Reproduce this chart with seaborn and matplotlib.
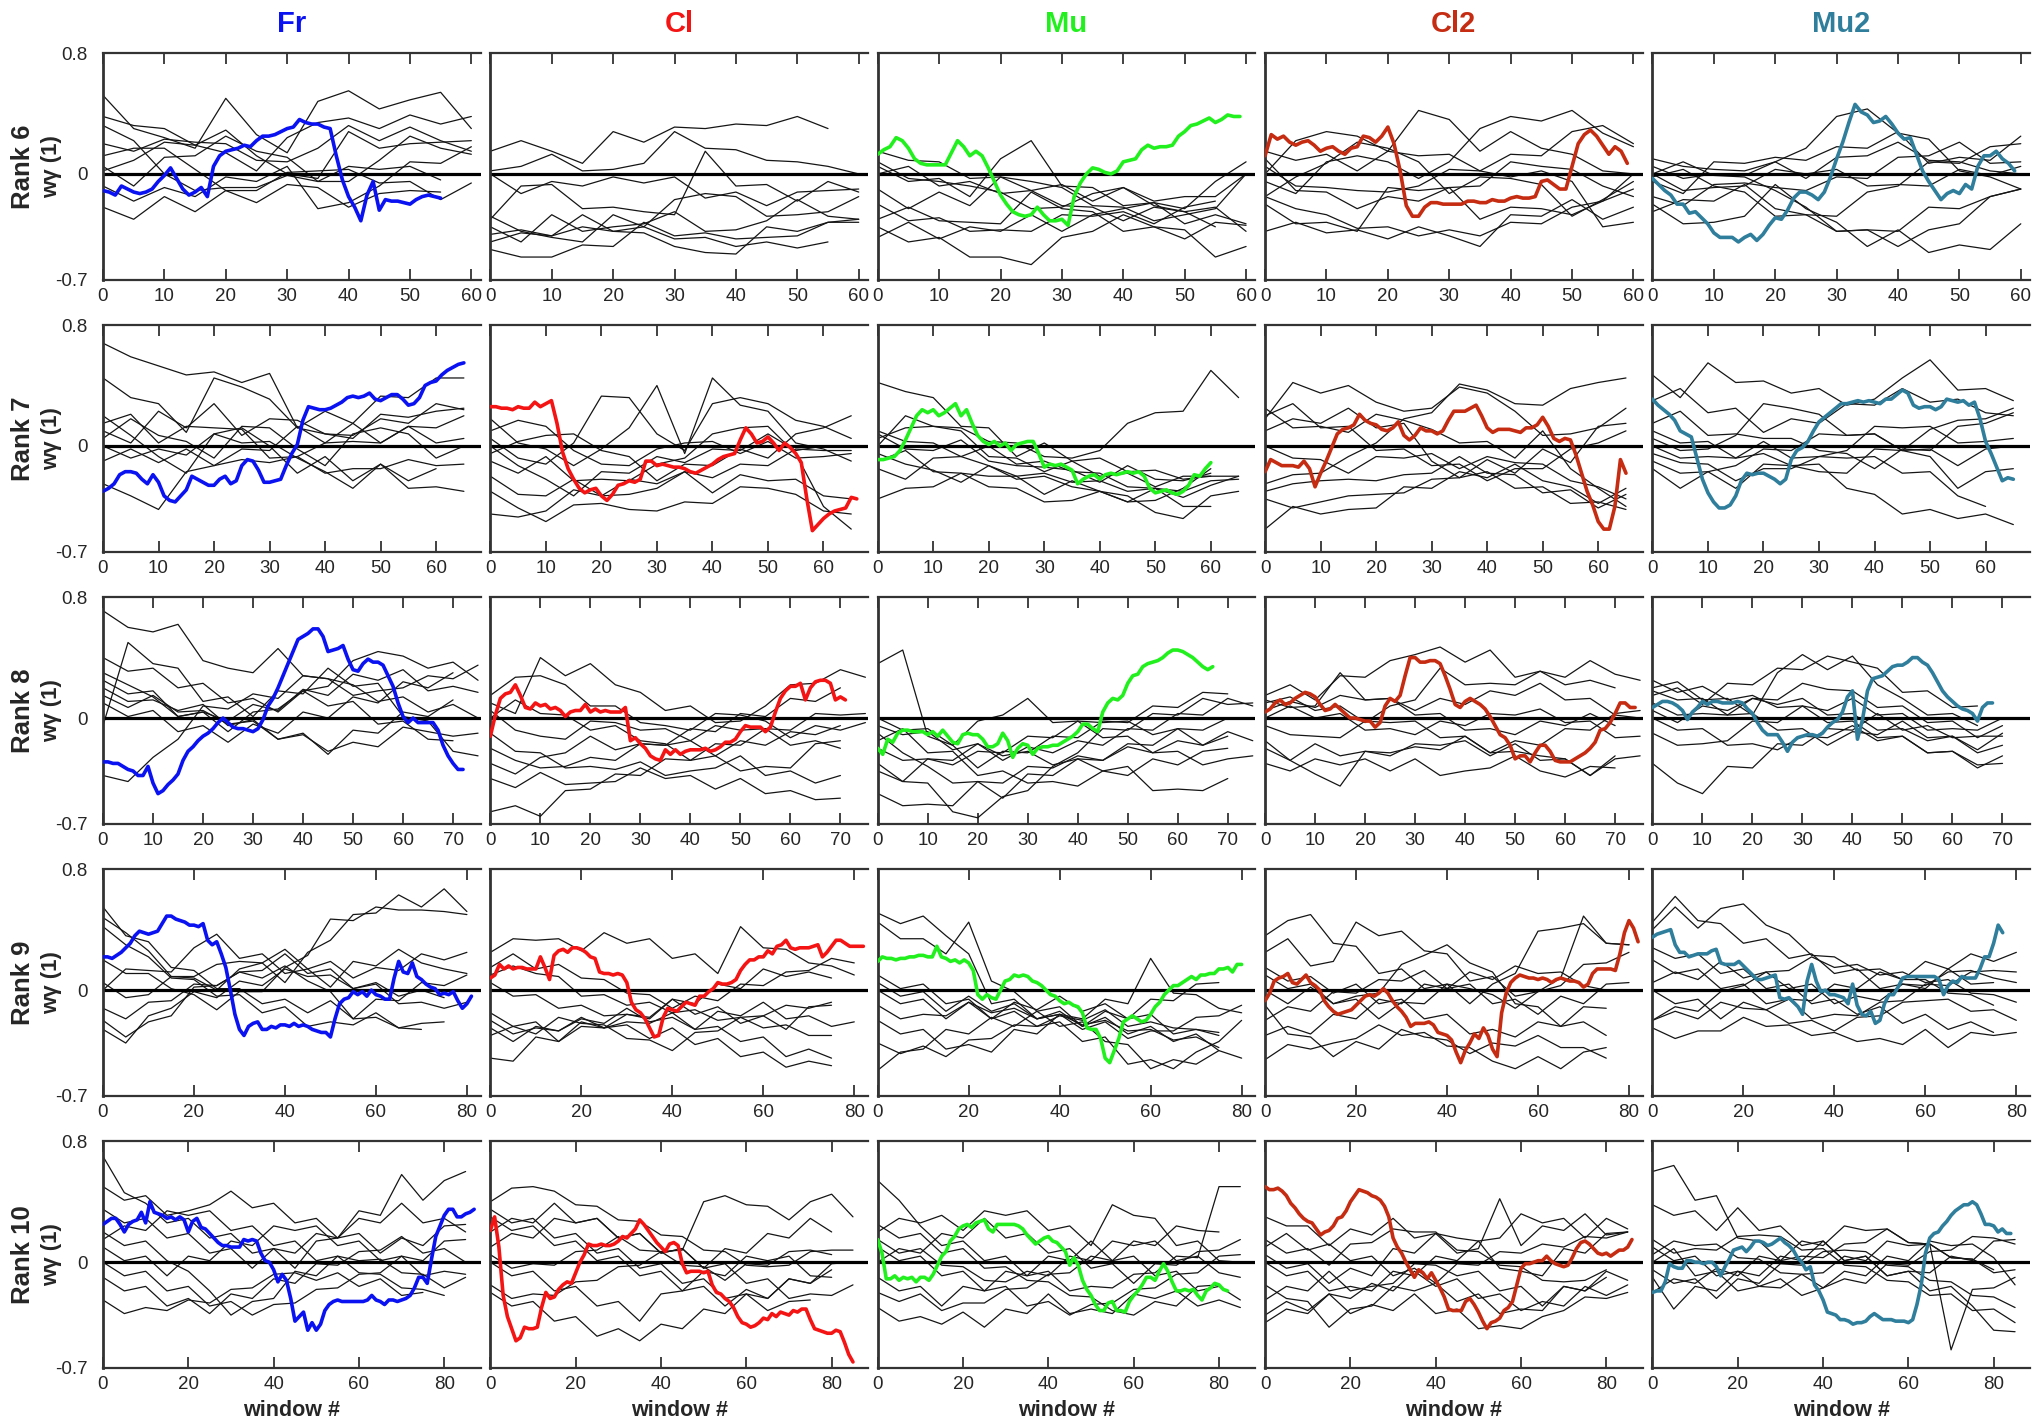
import numpy as np
import pandas as pd
import matplotlib
matplotlib.use("Agg")
import matplotlib.pyplot as plt
import seaborn as sns

sns.set_theme(style="white")
plt.rcParams["font.family"] = ["Liberation Sans", "DejaVu Sans"]

CONDITIONS = ["Fr", "Cl", "Mu", "Cl2", "Mu2"]
COND_COLORS = ["#0b12f2", "#f41414", "#22f01e", "#c52c12", "#2f7e9c"]
RANKS = [6, 7, 8, 9, 10]
X_MAX = [61.5, 68, 75.5, 83, 88.5]
X_TICK_STEP = [10, 10, 10, 20, 20]
Y_TICKS = [-0.7, 0, 0.8]
Y_TICK_LABELS = ["-0.7", "0", "0.8"]
BG_STEP = 5  # background runs are sampled every 5 windows

# All w-gamma(1) values are stored in hundredths.
# *_MAIN: highlighted run, one value per window; *_BG: other runs, every BG_STEP windows.

# ---------------- Rank 6 ----------------
R6_FR_MAIN = [-11,-12,-14,-8,-10,-12,-13,-12,-10,-5,-1,4,-3,-10,-14,-12,-9,-15,5,12,15,16,17,19,18,22,25,25,26,28,30,31,36,34,33,33,31,30,12,-4,-15,-22,-31,-14,-5,-24,-17,-18,-18,-19,-20,-17,-15,-14,-15,-16]
R6_FR_BG = [
    [52,30,24,17,50,26,14,48,55,43,49,54,30],
    [38,32,30,19,14,2,24,34,37,30,39,33,38],
    [20,15,23,21,20,9,8,17,32,22,31,22,15],
    [5,-8,11,12,25,15,11,-5,-5,9,25,17,13],
    [-22,-30,-15,-25,-11,-11,1,2,3,-6,-5,-17,-6],
    [2,9,21,19,29,12,0,-3,28,17,20,21,22],
    [32,22,0,-11,-9,-9,-1,-5,5,3,5,-4],
    [12,17,17,3,-11,-19,-7,-9,-22,-13,-11,-12],
    [-8,-18,-9,-15,-2,-5,5,-23,-19,-8,8,7,18],
]
R6_CL_MAIN = None
R6_CL_BG = [
    [15,22,15,7,28,21,31,30,33,32,38,30],
    [2,5,13,2,3,7,28,17,16,9,8,5,0],
    [-30,-8,-7,-23,-22,-25,-27,15,-8,-7,-18,-5,-12],
    [-35,-45,-27,-38,-35,-33,-25,-38,-37,-31,-17,-28,-30],
    [-50,-55,-55,-47,-48,-32,-41,-39,-43,-42,-41,-32,-32],
    [-40,-37,-41,-35,-38,-39,-48,-52,-53,-35,-38,-32,-30],
    [-45,-39,-41,-27,-38,-35,-43,-42,-48,-45,-49,-45],
    [0,-13,-5,-8,-2,-6,-2,-16,-12,-21,-12,-11,-10],
    [-28,-38,-42,-45,-27,-35,-17,-13,-15,-28,-27,-25,-15],
]
R6_MU_MAIN = [13,16,18,24,22,17,10,7,6,6,6,6,14,22,18,12,15,12,4,-5,-14,-20,-25,-27,-28,-27,-22,-27,-31,-31,-30,-34,-15,-6,0,4,3,1,0,2,8,9,10,16,19,17,18,18,19,25,28,32,33,35,37,34,36,39,38,38]
R6_MU_BG = [
    [5,-5,-3,-15,10,22,-8,-9,-21,-19,-23,-5,8],
    [-10,-23,-12,-21,-2,-5,-9,-21,-22,-31,-27,-23,0],
    [-35,-45,-42,-55,-55,-60,-42,-38,-27,-35,-37,-55,-48],
    [-30,-22,-31,-32,-33,-12,-23,-25,-38,-35,-43,-32,-34],
    [0,5,-8,-5,-13,-11,-21,-22,-31,-22,-25,-22,-38],
    [-42,-32,-43,-35,-38,-27,-38,-27,-23,-19,-33,-27,-33],
    [15,9,8,-3,-2,-11,-7,-18,-9,-21,-25,-35],
    [-20,-31,-29,-38,-37,-38,-27,-28,-25,-33,-22,-18],
    [8,-3,-5,-8,-12,-23,-22,-13,-9,-18,-15,-15,0],
]
R6_CL2_MAIN = [12,26,23,25,21,19,21,22,19,15,17,18,15,13,17,18,25,24,21,25,31,20,2,-21,-28,-28,-22,-19,-19,-20,-20,-20,-20,-18,-18,-19,-19,-17,-18,-18,-16,-15,-16,-16,-15,-5,-4,-7,-10,-10,5,20,26,29,25,19,13,18,15,7]
R6_CL2_BG = [
    [-38,-32,-39,-37,-43,-35,-41,-48,-27,-28,-17,-30,-22],
    [-15,-23,-27,-36,-35,-41,-37,-41,-32,-33,-22,-18,-10],
    [0,22,28,25,15,42,36,15,28,17,13,2,0],
    [-5,-13,8,12,8,-3,8,30,38,35,42,27,18],
    [-20,-33,-32,-38,-9,-11,-9,-8,8,5,3,-8,-15],
    [5,-8,-9,-11,-12,-8,3,2,13,12,28,32,20],
    [-15,-2,7,21,17,8,-13,-2,-3,-7,-28,-17,-5],
    [10,-11,-12,-23,-15,-18,-9,-30,-22,-23,-27,-18,0],
    [15,9,13,2,15,12,13,2,-2,2,-5,-35,-32],
]
R6_MU2_MAIN = [-3,-7,-11,-14,-20,-20,-26,-25,-29,-33,-39,-42,-42,-42,-45,-42,-40,-44,-40,-34,-29,-30,-24,-16,-12,-12,-14,-17,-12,-2,10,21,34,46,41,39,34,35,38,33,27,23,24,13,2,-5,-11,-17,-13,-11,-13,-7,-10,5,12,12,15,10,7,2]
R6_MU2_BG = [
    [10,5,3,2,8,17,38,43,27,23,2,-2,-10],
    [-20,-33,-32,-28,-7,-23,-32,-48,-37,-52,-47,-50,-33],
    [0,8,-1,-2,-11,-22,-38,-37,-38,-22,-23,-15,-10],
    [-5,-13,8,7,11,9,18,17,28,7,11,9,25],
    [-2,3,-8,-12,-28,-27,-28,-12,-8,8,7,18,20],
    [5,-3,0,-1,8,-3,11,12,21,9,8,2,0],
    [-25,-17,-18,-7,-23,-27,-38,-37,-48,-37,-33,-15,-10],
    [0,-11,-9,-8,3,0,3,-8,-7,-8,3,-1,5],
    [-15,-21,-7,-6,-9,-11,-2,-3,11,12,21,7,8],
]

# ---------------- Rank 7 ----------------
R7_FR_MAIN = [-30,-28,-25,-19,-17,-17,-18,-22,-25,-19,-24,-33,-36,-37,-33,-29,-20,-22,-24,-26,-26,-22,-20,-25,-23,-13,-9,-10,-16,-24,-24,-23,-22,-13,-5,1,17,26,25,24,24,25,27,29,32,33,32,33,35,31,30,32,34,34,31,27,28,32,40,42,43,47,50,52,54,55]
R7_FR_BG = [
    [68,59,53,47,49,42,48,12,8,7,18,15,28,24],
    [45,32,28,9,45,39,31,12,23,15,33,32,45,45],
    [10,2,23,12,28,7,18,17,8,5,21,19,23,25],
    [5,18,7,3,-8,13,12,-2,-13,8,12,8,-8,0],
    [0,-8,-2,-6,8,12,0,-18,-7,-23,-12,-28,-27,-30],
    [-25,-33,-42,-17,-13,-2,-3,13,2,3,2,13,12,20],
    [15,21,2,13,12,11,-8,-7,-18,-15,-15,-9,-13,-12],
    [-10,-2,-11,-2,-13,-9,-11,-7,2,15,2,13,2,5],
    [20,7,-7,-18,8,2,3,-8,-17,-28,-12,-23,-15],
]
R7_CL_MAIN = [26,26,25,25,24,26,25,25,29,26,28,30,15,-4,-15,-22,-28,-31,-29,-28,-33,-36,-32,-26,-25,-23,-24,-22,-10,-10,-13,-12,-13,-14,-14,-15,-17,-18,-16,-14,-12,-9,-7,-6,-5,4,12,8,2,3,6,2,-3,2,-1,-5,-11,-35,-56,-52,-48,-45,-43,-42,-41,-34,-35]
R7_CL_BG = [
    [18,2,-2,-13,-2,12,40,-5,45,27,23,2,-2,-10],
    [5,-8,-12,2,33,32,8,-3,28,32,28,17,13,5],
    [-10,-18,-7,-23,-22,-23,-12,-8,8,12,13,-5,-40,-55],
    [-30,-41,-50,-39,-38,-42,-43,-37,-38,-27,-28,-32,-43,-45],
    [-45,-47,-43,-29,-33,-22,-25,-17,-21,-12,-13,-2,-3,-3],
    [0,-13,-22,-33,-17,-18,-7,-11,-2,-3,8,-3,0,0],
    [-20,-32,-33,-22,-33,-32,-28,-17,-31,-19,-23,-22,-33,-35],
    [-5,3,7,8,-3,-7,-23,-12,-13,-2,-8,8,12,20],
    [10,17,13,-3,-12,-13,-2,2,3,-5,3,-8,-7,-5],
]
R7_MU_MAIN = [-9,-9,-8,-7,-3,4,12,20,24,22,24,20,22,25,28,20,24,15,7,3,1,3,0,2,-3,1,2,3,3,-5,-14,-12,-13,-12,-14,-16,-25,-22,-20,-19,-22,-19,-18,-19,-18,-17,-18,-17,-20,-28,-31,-30,-29,-31,-32,-30,-26,-19,-20,-15,-11]
R7_MU_BG = [
    [42,36,32,13,12,-7,2,-10,-8,-17,-16,-22,-20,-20],
    [5,12,13,12,3,2,-7,-8,-3,15,22,23,50,32],
    [-10,-3,-17,-18,-20,-20,-32,-23,-30,-33,-44,-48,-33,-30],
    [10,3,2,-7,0,-12,-10,-17,-18,-27,-28,-30,-23,-22],
    [-15,-22,-8,-7,-13,-20,-18,-24,-23,-30,-28,-34,-26,-20],
    [0,20,13,10,-7,-8,-17,-10,-20,-18,-27,-20,-20],
    [-35,-28,-27,-18,-27,-28,-37,-36,-30,-37,-28,-40,-40],
    [8,-2,-3,4,-10,-13,-14,-16,-24,-13,-22,-23,-18],
    [-5,-12,-16,-24,-13,-22,-20,-27,-30,-37,-36,-28,-15],
]
R7_CL2_MAIN = [-17,-9,-11,-13,-13,-13,-14,-10,-15,-27,-18,-10,-1,8,11,12,14,21,17,15,14,11,10,12,16,7,4,7,12,10,10,8,10,17,23,23,23,25,27,20,12,9,11,11,11,10,9,12,12,14,19,13,5,3,5,4,-6,-18,-30,-39,-50,-55,-55,-40,-9,-18]
R7_CL2_BG = [
    [18,42,35,40,29,23,25,39,35,23,7,8,12,25],
    [-25,-19,-18,-7,2,18,22,41,37,28,27,38,42,45],
    [-55,-40,-45,-42,-41,-27,-28,-17,-21,-12,-23,-27,-38,-28],
    [-35,-41,-37,-33,-32,-31,-22,-21,-17,-28,-27,-38,-37,-42],
    [-30,-25,-23,-22,-23,-19,-18,-7,-18,-19,-31,-29,-41,-32],
    [20,28,12,13,-3,-2,-13,-12,-23,-15,-15,-2,2,10],
    [10,18,15,25,12,15,-10,-21,-9,-18,-2,-11,13,15],
    [25,12,13,9,21,17,11,2,3,-8,10,-15,-28,-40],
    [0,-8,-9,-18,-7,-8,-5,-15,-7,-11,-12,-23,-27,-35],
]
R7_MU2_MAIN = [31,27,24,21,17,10,8,6,-8,-22,-31,-37,-41,-41,-39,-33,-23,-18,-19,-18,-18,-20,-22,-25,-22,-9,-3,-1,3,10,16,19,22,25,28,28,29,30,29,30,29,28,31,31,34,37,35,27,25,26,26,24,26,31,30,29,30,27,29,18,3,-5,-14,-23,-21,-22]
R7_MU2_BG = [
    [47,32,55,42,43,35,38,27,31,45,57,37,38,30],
    [30,38,22,25,9,18,15,28,27,38,29,31,22,20],
    [5,-3,-2,7,28,25,21,7,8,-3,11,17,18,25],
    [0,-8,-7,-8,-5,-13,-12,-28,-32,-45,-42,-48,-45,-52],
    [-5,-11,-12,-23,-15,-15,-7,-8,-7,-18,-17,-33,-40],
    [-10,-18,-17,-13,-2,-3,8,7,8,-3,-2,-13,-2,0],
    [10,2,3,-8,3,-8,-7,-3,13,12,13,2,3,5],
    [15,23,7,8,5,5,-3,-5,-15,-2,-3,13,15,22],
    [-15,-28,-17,-28,-12,-13,-17,-18,-2,-3,-7,-28,-17,-15],
]

# ---------------- Rank 8 ----------------
R8_FR_MAIN = [-29,-29,-30,-30,-32,-34,-35,-38,-38,-32,-43,-50,-48,-44,-41,-37,-28,-22,-19,-15,-12,-10,-7,-3,0,-3,-6,-7,-7,-8,-9,-7,-1,8,13,20,28,36,44,52,54,56,59,59,54,44,45,46,48,39,32,31,36,39,37,37,35,28,21,10,1,-3,0,-3,-3,-3,-3,-8,-18,-25,-30,-34,-34]
R8_FR_BG = [
    [71,60,57,62,38,33,30,46,28,26,15,18,20,28,26,35],
    [40,31,33,20,23,10,13,4,18,21,38,44,41,33,37,25],
    [-38,-42,-26,-14,8,6,16,13,28,26,22,11,14,4,9,0],
    [30,22,14,1,4,-2,9,5,19,15,29,25,32,18,21,17],
    [20,11,12,5,9,-5,-1,-14,-10,-24,-8,-10,4,1,12],
    [10,1,5,-9,-5,-16,-4,-10,4,0,14,10,24,20,30],
    [15,7,15,4,5,-4,-2,-14,-11,-22,-16,-19,-6,-9,-12,-10],
    [-5,50,36,33,11,14,1,18,16,33,21,23,1,-2,-22,-25],
    [25,16,18,1,4,-9,4,6,18,8,11,-4,-2,-14,-15],
]
R8_CL_MAIN = [-12,2,13,16,17,22,15,7,6,10,8,9,6,7,5,1,4,5,5,9,4,6,4,5,4,4,4,7,-15,-13,-17,-20,-25,-27,-28,-21,-24,-21,-24,-22,-21,-21,-21,-20,-22,-21,-19,-16,-16,-14,-9,-5,-6,-6,-6,-9,-6,4,13,18,21,21,23,12,20,24,25,25,23,12,14,12]
R8_CL_BG = [
    [10,3,40,28,36,22,17,5,8,-3,-2,8,22,23,32,27],
    [-62,-58,-65,-48,-47,-37,-38,-27,-28,-17,-18,-7,-8,3,2,3],
    [-40,-46,-36,-44,-43,-42,-33,-40,-38,-47,-40,-50,-48,-54,-53],
    [-20,-28,-33,-32,-26,-28,-17,-18,-7,-9,3,1,13,11,20],
    [5,-8,-12,-14,-2,-3,-8,-7,-15,-5,-8,-7,-18,-15,-20],
    [-10,-22,-23,-33,-32,-34,-29,-38,-35,-33,-25,-38,-35,-43,-38],
    [15,27,28,22,8,8,-3,-5,-8,3,2,-2,-13,-5,-8,-3],
    [-30,-37,-26,-23,-12,-21,-17,-18,-15,-25,-15,-18,-9,-11,-5],
    [0,12,3,2,-8,-5,-15,-17,-28,-25,-35,-32,-33,-17,-15],
]
R8_MU_MAIN = [-20,-24,-14,-16,-10,-8,-8,-9,-9,-9,-11,-9,-12,-8,-12,-16,-17,-11,-10,-11,-11,-14,-19,-19,-17,-10,-15,-26,-20,-17,-18,-24,-20,-19,-19,-18,-18,-16,-14,-12,-9,-4,-4,-7,-9,4,10,13,12,15,23,28,29,34,36,37,38,40,43,45,45,44,42,40,37,34,32,34]
R8_MU_BG = [
    [36,45,-12,-18,-33,-22,-23,-12,-13,-2,-3,8,7,17,16],
    [-30,-42,-43,-62,-66,-52,-48,-32,-23,-7,-8,3,2,13,9,10],
    [-10,-23,-32,-43,-42,-53,-37,-38,-27,-28,-17,-18,-7,-8,0],
    [-35,-42,-27,-28,-17,-25,-22,-31,-27,-35,-32,-48,-47,-48,-40],
    [0,-8,-7,-18,-2,2,13,-3,-2,-13,-12,-23,-22,-31,-27,-25],
    [-20,-28,-27,-31,-22,-23,-12,-13,-2,-3,-2,-11,-7,-18,-9,-15],
    [-50,-58,-57,-58,-42,-43,-32,-33,-25,-28,-19,-23,-15,-18,-12],
    [-5,-11,-9,-21,-17,-28,-19,-23,-15,-18,-7,-8,3,2,13,8],
    [-15,-7,-23,-22,-38,-35,-43,-42,-45,-35,-38,-27,-31,-22,-20],
]
R8_CL2_MAIN = [4,6,10,12,9,10,13,15,17,16,14,9,5,6,9,6,3,0,0,-1,-2,-2,-6,-3,8,13,11,15,28,40,40,37,37,38,38,36,28,19,9,7,11,13,11,9,6,1,-5,-11,-13,-18,-27,-25,-25,-29,-23,-18,-18,-22,-28,-29,-29,-29,-27,-25,-23,-20,-16,-8,-7,-3,3,10,10,7,7]
R8_CL2_BG = [
    [15,22,12,28,27,38,42,47,37,45,27,31,22,25,20],
    [-15,-28,-37,-45,-22,-25,-17,-18,-15,-25,-17,-28,-27,-38,-27,-25],
    [10,14,5,8,-3,8,12,33,22,23,22,31,27,38,29,25],
    [-20,-28,-17,-25,-22,-23,-19,-21,-12,-23,-22,-25,-27,-38,-25],
    [-30,-35,-27,-31,-27,-35,-27,-38,-35,-33,-25,-35,-39,-32,-33],
    [0,8,0,3,-8,-7,-11,-2,-5,3,2,6,-3,-2,-13,-12],
    [5,11,7,15,12,13,5,13,9,18,15,23,12,13,2,0],
    [-5,-11,-12,-13,-2,-3,-2,-13,-12,-23,-15,-18,-7,-8,3,5],
    [12,7,8,30,12,13,2,3,-8,-7,-11,-2,-5,3,-5],
]
R8_MU2_MAIN = [7,9,11,11,10,8,5,-1,4,7,11,9,11,11,10,10,10,11,10,6,3,-3,-8,-11,-11,-11,-16,-22,-16,-13,-12,-11,-11,-12,-10,-6,-3,-1,4,14,18,-14,-1,18,26,27,28,31,34,35,35,37,40,40,37,35,30,24,18,14,11,8,6,5,3,-2,7,10,10]
R8_MU2_BG = [
    [-30,-43,-50,-32,-33,-17,-18,-7,-8,3,-8,-5,-13,-12,-12],
    [20,24,12,13,2,30,42,32,41,22,13,2,3,-5],
    [15,20,9,23,22,33,32,41,37,33,17,18,7,8],
    [10,2,3,2,13,12,23,19,18,7,8,-3,-2,-13,-5],
    [0,-8,-7,-18,-17,-21,-12,-13,-5,-15,-12,-23,-22,-31,-30],
    [18,12,13,2,3,-8,-7,-18,-9,-11,-2,-13,-12,-23,-18],
    [5,-3,8,5,13,9,13,2,3,-8,-7,-15,-12,-21,-10],
    [-10,-18,-17,-15,-2,-3,8,5,13,2,3,-8,-7,-8,0],
    [25,17,21,12,15,7,8,-3,-2,-13,-12,-23,-22,-33,-25],
]

# ---------------- Rank 9 ----------------
R9_FR_MAIN = [22,22,21,23,25,28,31,36,39,38,37,38,39,44,49,49,47,46,45,43,43,42,44,33,30,32,24,15,0,-16,-26,-30,-24,-22,-21,-26,-26,-24,-25,-23,-23,-24,-22,-24,-23,-24,-26,-27,-28,-28,-31,-19,-9,-6,-5,-1,-3,-1,-4,0,-3,-4,-6,-6,8,19,12,11,18,9,7,4,2,1,-3,-2,-3,-1,-7,-12,-9,-4]
R9_FR_BG = [
    [5,-5,-3,9,9,17,19,18,5,25,33,50,51,63,55,67,52],
    [20,11,11,1,-3,-13,-1,-1,15,23,47,46,55,53,53,52,50],
    [55,36,32,15,13,1,1,-9,-6,-15,-7,-19,-6,-7,5,3,10],
    [48,38,26,9,8,0,14,18,27,14,19,8,15,13,24,20,25],
    [42,30,22,8,7,-4,-3,-15,-11,-24,-21,-23,-15,-25,-22,-21],
    [-12,-19,-8,-7,4,3,12,13,24,11,14,1,4,-9,-8,-12,-8],
    [-26,-35,-17,-12,-1,-5,6,3,14,9,10,1,5,-4,0,-5],
    [0,14,13,12,28,37,21,24,11,14,2,19,16,27,18,14,11],
    [-20,-31,-21,-17,2,3,12,8,16,6,-1,-19,-18,-25,-26],
]
R9_CL_MAIN = [8,10,17,14,16,14,15,15,14,14,14,22,15,7,23,26,27,25,28,28,27,25,22,21,12,11,11,10,11,10,5,-8,-13,-15,-19,-25,-31,-30,-18,-12,-13,-14,-11,-8,-9,-10,-4,-4,-1,1,5,4,4,5,7,13,17,20,20,22,22,26,24,29,30,33,28,27,28,28,28,29,30,22,25,29,33,33,31,29,29,29,29]
R9_CL_BG = [
    [25,34,33,34,26,38,31,34,21,24,11,42,28,27,18,16,10],
    [-25,-34,-24,-27,-19,-22,-12,-21,-18,-26,-14,-17,-8,-19,-17,-24,-21],
    [-45,-47,-31,-34,-21,-25,-23,-32,-25,-36,-32,-44,-41,-51,-47,-50],
    [15,24,14,17,8,7,-2,-3,-12,-4,-7,4,3,12,13,21,18],
    [-20,-29,-25,-27,-18,-25,-21,-22,-15,-26,-24,-34,-31,-44,-39,-45],
    [5,-4,-3,-12,-10,-17,-16,-18,-6,-9,4,1,14,9,12,8],
    [-30,-24,-29,-18,-22,-23,-32,-33,-40,-28,-27,-18,-17,-10,-12,-8],
    [10,16,11,9,-4,-3,-10,-8,-15,-13,-20,-18,-25,-23,-30,-30],
    [-15,-24,-21,-34,-24,-25,-16,-19,-6,-16,-11,-22,-17,-26,-11,-10],
]
R9_MU_MAIN = [19,22,21,21,20,21,21,22,22,23,23,22,22,29,22,21,19,20,18,20,18,13,-3,-6,-3,-5,-6,0,6,7,10,9,10,9,6,5,3,0,-3,-4,-7,-9,-8,-10,-11,-15,-25,-26,-26,-32,-45,-48,-40,-32,-21,-19,-17,-19,-21,-20,-16,-11,-8,-3,0,3,3,5,7,9,7,10,10,11,11,14,14,15,12,17,17]
R9_MU_BG = [
    [51,44,49,36,24,-9,-6,-19,-14,-24,-18,-29,-24,-34,-29,-40,-45],
    [45,34,34,24,45,6,-1,-14,-11,-24,-14,-19,-16,-29,-26,-28],
    [-53,-41,-39,-26,-29,-18,-24,-14,-24,-21,-34,-36,-52,-46,-49,-40],
    [0,-9,-6,-19,-8,-19,-14,-24,-21,-34,-31,-49,-46,-52,-41,-34,-20],
    [-20,-29,-26,-39,-36,-41,-26,-29,-16,-19,-6,-9,21,-2,-3,-12,-15],
    [-10,-19,-16,-17,-8,-15,-12,-19,-16,-23,-20,-27,-26,-33,-31,-38],
    [10,1,4,-9,-6,-19,-8,-13,-4,-14,-9,-19,-6,-7,4,5],
    [-35,-42,-37,-44,-33,-32,-23,-24,-17,-20,-13,-24,-21,-25,-26,-30],
    [5,-4,-1,-14,-4,-14,-9,-19,-16,-26,-21,-32,-27,-27,-18,-17,-10],
]
R9_CL2_MAIN = [-7,-2,6,8,9,11,5,4,7,10,5,3,0,-7,-11,-14,-16,-15,-14,-13,-10,-7,-4,-3,-4,-2,1,-2,-7,-11,-14,-18,-24,-22,-22,-22,-21,-23,-28,-29,-30,-33,-41,-48,-40,-35,-29,-32,-25,-30,-39,-44,-15,-2,5,8,10,9,8,8,7,8,7,5,7,8,7,6,6,5,2,4,11,14,14,14,14,13,24,38,46,41,32]
R9_CL2_BG = [
    [36,46,50,31,29,11,14,1,4,-9,4,11,39,41,44,31,30],
    [25,34,16,19,45,36,39,26,24,6,9,-4,-1,8,49,31,30],
    [-46,-36,-39,-35,-32,-23,-30,-28,-37,-38,-47,-52,-44,-52,-41,-38],
    [-10,-29,-31,-44,-34,-39,-26,-31,-33,-42,-35,-37,-30,-38,-38,-45],
    [10,1,4,-9,-4,-2,17,23,30,18,12,-9,-11,-24,-21,-30],
    [-20,-11,-14,-1,-2,7,6,13,1,4,-9,-6,-16,-4,-9,4,5],
    [0,-9,2,-9,-6,-19,-8,-9,4,1,-3,-12,-1,3,17,18,25],
    [-30,-24,-29,-16,-19,-6,-9,4,1,12,7,16,11,12,3,0],
    [15,6,9,-2,4,-9,-6,-19,-16,-29,-26,-31,-21,-24,-11,-12],
]
R9_MU2_MAIN = [35,37,38,39,40,30,25,25,22,23,24,24,24,26,27,18,17,17,17,19,16,13,10,7,7,8,9,10,-5,-6,-5,-8,-11,-16,6,17,6,-1,0,-3,-3,-4,-5,-9,4,-10,-16,-17,-14,-22,-20,-9,-3,-3,2,8,9,9,9,9,9,9,9,7,-3,3,6,5,9,8,8,8,14,22,22,31,43,38]
R9_MU2_BG = [
    [45,62,46,44,31,34,21,24,11,14,1,4,3,12,13,8,5],
    [40,55,41,54,57,43,37,23,22,13,14,7,19,14,24,19,25],
    [-20,-11,-14,-1,3,12,13,22,15,17,10,12,5,7,-2,-3,-8],
    [-25,-32,-27,-27,-18,-24,-23,-30,-28,-34,-32,-36,-26,-38,-28,-30,-28],
    [0,-9,-6,-19,-8,-13,-6,-7,4,1,12,7,7,-2,-3,-10],
    [20,11,14,1,4,-9,-6,-19,-16,-17,-8,-7,4,3,12,13,12],
    [-20,-14,-19,-8,-12,-13,-22,-20,-27,-18,-17,-8,-7,-6,-14,-13,-20],
    [5,12,7,19,8,12,1,4,-9,-4,-7,4,1,14,4,5],
    [28,21,24,11,14,1,4,-9,-6,-16,-11,-22,-16,-26,-21,-28],
]

# ---------------- Rank 10 ----------------
R10_FR_MAIN = [25,27,29,29,25,20,25,27,28,33,26,40,33,32,31,29,30,28,30,28,20,27,29,23,22,19,16,13,11,11,10,10,10,15,14,15,14,6,1,0,-5,-13,-8,-12,-24,-39,-36,-33,-45,-40,-45,-41,-32,-28,-26,-25,-26,-26,-26,-26,-26,-26,-25,-22,-25,-26,-28,-25,-25,-26,-25,-24,-22,-17,-10,-10,-14,2,17,24,31,35,35,30,30,32,33,35]
R10_FR_BG = [
    [70,46,39,26,29,16,19,6,9,-4,14,16,34,31,58,41,54,60],
    [50,41,44,31,34,38,47,36,39,26,29,16,19,6,16,11,24,25],
    [-10,-19,-16,-29,-24,-34,-21,-24,-11,-14,-1,-2,7,8,17,6,9,0],
    [20,11,14,1,-6,-19,-35,-26,-24,-6,-9,4,1,2,-7,-8,-17,-10],
    [-25,-34,-30,-32,-25,-27,-18,-17,-8,-7,-12,-7,-16,-11,-22,-20],
    [35,26,29,16,19,6,9,-4,9,6,19,16,29,26,39,26,29,20],
    [10,1,4,-9,4,1,14,11,24,21,24,11,14,1,4,-9,-6,-8],
    [15,24,21,34,31,34,21,24,11,14,1,4,-7,-8,-17,-18,-22],
    [0,-9,-6,-19,-16,-29,-26,-35,-28,-27,-18,-17,-8,-7,4,1,14,15],
]
R10_CL_MAIN = [21,30,10,-22,-36,-44,-52,-50,-43,-44,-44,-43,-30,-20,-24,-23,-18,-15,-13,-14,-7,0,5,12,11,11,12,11,11,12,14,17,16,19,22,28,25,21,17,13,10,7,12,13,11,-1,-7,-6,-6,-6,-7,-6,-15,-20,-21,-24,-26,-30,-36,-40,-41,-43,-42,-40,-37,-38,-34,-36,-33,-34,-35,-32,-33,-31,-31,-38,-44,-45,-46,-47,-47,-45,-46,-53,-61,-66]
R10_CL_BG = [
    [40,49,50,47,38,37,28,27,18,17,8,7,-2,-3,-2,7,8,8],
    [30,21,24,11,14,1,4,-9,-6,-19,-16,-29,-18,-24,-11,-14,-1,0],
    [-20,-29,-26,-39,-36,-49,-44,-52,-41,-44,-31,-34,-21,-24,-11,-14,-5],
    [10,19,16,29,26,29,16,19,6,9,-4,-1,-14,-11,-24,-21,-22,-15],
    [35,26,29,16,19,6,9,-4,-1,-14,-11,-24,-21,-32,-26,-25],
    [0,-9,-6,-19,-16,-29,-26,-39,-21,-19,-6,-9,4,1,4,-9,-10],
    [20,29,26,39,26,29,16,19,6,9,-4,9,6,19,16,29,20],
    [-15,-24,-21,-22,-13,-12,-3,-2,7,8,40,44,38,37,28,40,45,30],
    [5,-4,-1,-2,7,8,17,8,7,-2,-3,-12,-1,-2,7,8,5],
]
R10_MU_MAIN = [15,6,-11,-11,-9,-12,-10,-11,-10,-13,-10,-10,-12,-8,-2,4,7,14,17,22,24,25,23,26,27,28,22,20,25,25,25,25,25,24,22,18,15,12,14,16,17,14,13,10,7,-2,3,-2,-12,-18,-22,-28,-32,-32,-27,-26,-32,-32,-33,-26,-22,-19,-15,-10,-10,-12,-6,-1,-6,-13,-19,-19,-18,-19,-18,-22,-25,-19,-17,-14,-15,-18,-19]
R10_MU_BG = [
    [54,41,24,11,14,1,4,-9,-6,-19,-16,-17,-8,-7,4,3,50,50],
    [-30,-39,-36,-41,-33,-43,-31,-34,-21,-34,-31,-34,-21,-24,-19,-29,-25,-30],
    [20,29,26,31,21,34,31,34,21,24,11,38,31,29,11,14,1,0],
    [10,1,4,-9,-6,-19,-16,-29,-26,-35,-28,-27,-18,-17,-8,-7,4,5],
    [-10,-19,-16,-29,-16,-19,-6,-9,4,1,14,1,4,-9,-6,-19,-16,-25],
    [25,16,19,6,9,-4,-3,-12,-13,-22,-23,-32,-35,-26,-29,-16,-15],
    [0,9,6,19,16,29,16,19,6,9,-4,-1,-14,-1,-2,7,8,15],
    [-20,-26,-21,-32,-27,-27,-18,-17,-8,-7,4,1,14,11,24,21,20],
    [15,6,9,-2,-3,-12,-13,-6,-9,4,1,14,11,14,1,4,-7,-10],
]
R10_CL2_MAIN = [50,48,48,49,47,44,39,36,32,29,27,26,22,18,20,21,24,29,30,34,40,44,48,47,46,44,43,41,37,30,16,10,6,0,-5,-10,-5,-7,-11,-7,-12,-17,-23,-31,-32,-32,-32,-26,-24,-28,-33,-39,-44,-40,-39,-37,-32,-30,-26,-15,-4,-1,-1,0,1,1,4,1,-1,-2,-3,-2,3,9,13,14,12,9,6,5,6,4,6,8,8,10,15]
R10_CL2_BG = [
    [30,24,24,11,22,18,29,16,19,6,9,42,11,24,21,32,18,20],
    [-15,-24,-26,-43,-31,-29,-16,-19,-14,-26,-21,-34,-31,-32,-16,-19,-6,-12],
    [5,-4,-1,-14,-4,-9,9,6,19,16,14,-4,-6,-9,9,6,19,20],
    [-35,-26,-32,-21,-34,-28,-32,-21,-34,-31,-44,-42,-44,-36,-32,-23,-24,-20],
    [15,6,9,-2,12,13,22,20,20,8,7,-2,-3,-12,-13,-12,-5],
    [-25,-16,-19,-6,-19,-16,-14,-1,-2,-9,-6,-19,-16,-29,-16,-19,-10],
    [0,-9,-6,-19,-16,-19,-6,-9,4,1,14,16,32,26,29,16,29,22],
    [-40,-31,-34,-21,-24,-14,-19,-6,-16,-11,-24,-21,-32,-26,-29,-16,-22,-15],
    [10,19,8,12,1,4,-9,-4,-14,-1,-2,7,6,12,10,17,16,20],
]
R10_MU2_MAIN = [-20,-19,-19,-13,-1,-3,-4,-4,1,1,0,0,-1,0,0,-3,-9,-3,2,8,9,10,7,10,14,14,13,11,12,14,16,13,11,8,3,0,-5,-3,-15,-19,-25,-33,-34,-35,-38,-38,-39,-41,-40,-40,-39,-36,-34,-36,-38,-38,-38,-39,-39,-39,-40,-38,-28,-15,6,16,19,20,24,27,31,34,36,38,38,40,38,32,25,25,24,20,22,19,19]
R10_MU2_BG = [
    [60,64,41,44,16,14,1,4,3,12,13,22,13,12,3,2,-7,-5],
    [38,31,34,21,36,21,24,11,14,1,4,-9,-6,-7,4,1,14,15],
    [-10,-31,-16,-19,-6,-9,4,1,14,1,4,-9,-6,-19,-16,-29,-45,-46],
    [0,9,-9,-6,-19,-16,-17,-8,-7,4,1,14,11,12,-58,-18,-17,-10],
    [10,1,4,-9,-6,-16,-11,-22,-17,-11,-14,-1,-2,7,8,17,16,12],
    [-20,-11,-14,-4,-9,4,1,14,11,24,21,22,13,12,3,2,-5],
    [5,14,11,12,3,2,-7,-8,-17,-6,-9,4,1,14,11,12,3,-15],
    [-5,-14,-11,-24,-11,-14,-1,-2,7,8,7,-2,-3,-12,-13,-22,-23,-30],
    [15,6,9,8,17,18,17,8,9,-2,-3,-12,-13,-22,-21,-32,-31,-40],
]

PANELS = [
    [(R6_FR_MAIN, R6_FR_BG), (R6_CL_MAIN, R6_CL_BG), (R6_MU_MAIN, R6_MU_BG), (R6_CL2_MAIN, R6_CL2_BG), (R6_MU2_MAIN, R6_MU2_BG)],
    [(R7_FR_MAIN, R7_FR_BG), (R7_CL_MAIN, R7_CL_BG), (R7_MU_MAIN, R7_MU_BG), (R7_CL2_MAIN, R7_CL2_BG), (R7_MU2_MAIN, R7_MU2_BG)],
    [(R8_FR_MAIN, R8_FR_BG), (R8_CL_MAIN, R8_CL_BG), (R8_MU_MAIN, R8_MU_BG), (R8_CL2_MAIN, R8_CL2_BG), (R8_MU2_MAIN, R8_MU2_BG)],
    [(R9_FR_MAIN, R9_FR_BG), (R9_CL_MAIN, R9_CL_BG), (R9_MU_MAIN, R9_MU_BG), (R9_CL2_MAIN, R9_CL2_BG), (R9_MU2_MAIN, R9_MU2_BG)],
    [(R10_FR_MAIN, R10_FR_BG), (R10_CL_MAIN, R10_CL_BG), (R10_MU_MAIN, R10_MU_BG), (R10_CL2_MAIN, R10_CL2_BG), (R10_MU2_MAIN, R10_MU2_BG)],
]

W, H = 2033, 1426
fig = plt.figure(figsize=(W / 100, H / 100), dpi=100)
gs = fig.add_gridspec(5, 5, left=103 / W, right=2030 / W, top=1 - 53 / H, bottom=1 - 1368 / H,
                      wspace=0.026, hspace=0.2)
SPINE = "#333333"

for r in range(5):
    for c in range(5):
        ax = fig.add_subplot(gs[r, c])
        main, bg = PANELS[r][c]
        recs = [(k, i * BG_STEP, v / 100) for k, run in enumerate(bg) for i, v in enumerate(run)]
        df = pd.DataFrame(recs, columns=["run", "window", "w"])
        sns.lineplot(data=df, x="window", y="w", units="run", estimator=None, color="#151515",
                     lw=0.9, ax=ax, legend=False, zorder=1.5)
        ax.axhline(0, color="black", lw=2.3, zorder=2)
        if main is not None:
            sns.lineplot(x=np.arange(len(main)), y=np.asarray(main) / 100, color=COND_COLORS[c],
                         lw=2.6, ax=ax, zorder=3)
        ax.set_xlim(0, X_MAX[r])
        ax.set_ylim(-0.7, 0.8)
        ax.set_xticks(np.arange(0, X_MAX[r], X_TICK_STEP[r]))
        ax.tick_params(axis="x", direction="in", top=True, bottom=True, length=8, width=1.3,
                       color=SPINE, labelsize=13.5, pad=6)
        ax.set_yticks(Y_TICKS)
        ax.set_yticklabels(Y_TICK_LABELS if c == 0 else [])
        ax.tick_params(axis="y", length=0, labelsize=13.5, pad=11)
        ax.set_xlabel("")
        ax.set_ylabel("")
        ax.grid(False)
        ax.spines["right"].set_visible(False)
        for side, lw in (("left", 2.0), ("top", 1.6), ("bottom", 1.6)):
            ax.spines[side].set_visible(True)
            ax.spines[side].set_color(SPINE)
            ax.spines[side].set_linewidth(lw)

        pos = ax.get_position()
        xc = (pos.x0 + pos.x1) / 2
        yc = (pos.y0 + pos.y1) / 2
        if r == 0:
            fig.text(xc, 1 - 23.5 / H, CONDITIONS[c], color=COND_COLORS[c], fontsize=21,
                     fontweight="bold", ha="center", va="center")
        if r == 4:
            fig.text(xc, 1 - 1411 / H, "window #", fontsize=15.5, fontweight="bold",
                     ha="center", va="center")
        if c == 0:
            fig.text(23 / W, yc, f"Rank {RANKS[r]}", rotation=90, fontsize=18.5,
                     fontweight="bold", ha="center", va="center")
            fig.text(52 / W, yc, "wγ (1)", rotation=90, fontsize=16, fontweight="bold",
                     ha="center", va="center")

fig.savefig("out.png", dpi=100, facecolor="white")
